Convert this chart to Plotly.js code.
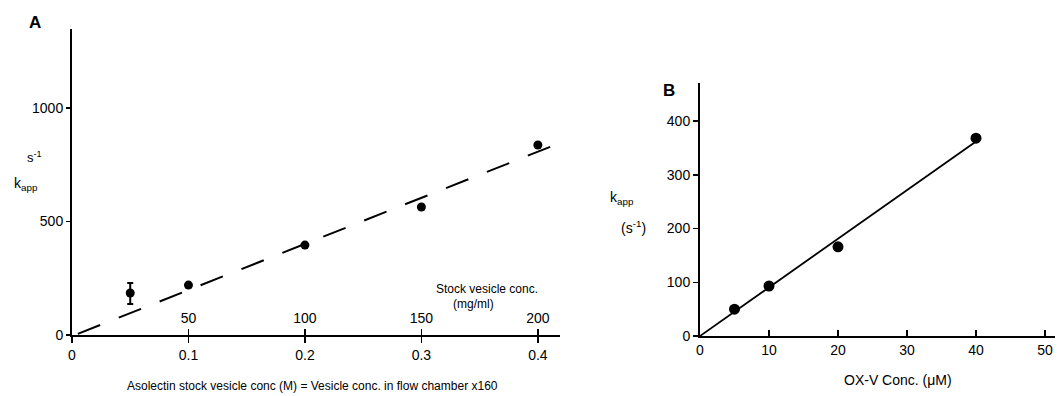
<!DOCTYPE html>
<html><head><meta charset="utf-8">
<script src="https://cdn.plot.ly/plotly-3.0.1.min.js"></script>
<style>html,body{margin:0;padding:0;background:#fff}</style>
</head><body>
<div id="chart" style="width:1059px;height:396px"></div>
<script>
// Panel A data
const aX = [0.05, 0.1, 0.2, 0.3, 0.4];
const aY = [185, 220, 396, 564, 837];
const aErrPlus = [44, 0, 0, 0, 0];
const aErrMinus = [48, 0, 0, 0, 0];
const aFitX = [0.005, 0.419];
const aFitY = [5, 846];
const aXTicks = [0, 0.1, 0.2, 0.3, 0.4];
const aXTickText = ['0', '0.1', '0.2', '0.3', '0.4'];
const aTopTicks = [50, 100, 150, 200];
const aYTicks = [0, 500, 1000];
// Panel B data
const bX = [5, 10, 20, 40];
const bY = [50, 93, 166, 368];
const bFitX = [0, 40];
const bFitY = [0, 362];
const bXTicks = [0, 10, 20, 30, 40, 50];
const bYTicks = [0, 100, 200, 300, 400];

const W = 1059, H = 396;
const px = v => v / W, py = v => 1 - v / H;
const font = {family: 'Liberation Sans, Arial, sans-serif', color: '#000', size: 14};

const traces = [
  {x: aFitX, y: aFitY, xaxis: 'x', yaxis: 'y', mode: 'lines',
   line: {color: '#000', width: 2, dash: '24px,20px'}, hoverinfo: 'skip'},
  {x: aX, y: aY, xaxis: 'x', yaxis: 'y', mode: 'markers',
   marker: {color: '#000', size: 9},
   error_y: {type: 'data', symmetric: false, array: aErrPlus, arrayminus: aErrMinus,
             color: '#000', thickness: 2, width: 3}},
  {x: [0], y: [0], xaxis: 'x2', yaxis: 'y', mode: 'markers', marker: {opacity: 0}, hoverinfo: 'skip'},
  {x: bFitX, y: bFitY, xaxis: 'x3', yaxis: 'y3', mode: 'lines',
   line: {color: '#000', width: 1.8}, hoverinfo: 'skip'},
  {x: bX, y: bY, xaxis: 'x3', yaxis: 'y3', mode: 'markers',
   marker: {color: '#000', size: 11}}
];

const axBase = {showgrid: false, zeroline: false, showline: true, linecolor: '#000',
  linewidth: 2, tickcolor: '#000', tickwidth: 1.5, tickfont: font, fixedrange: true};

const layout = {
  width: W, height: H, showlegend: false,
  margin: {l: 0, r: 0, t: 0, b: 0},
  paper_bgcolor: '#fff', plot_bgcolor: 'rgba(0,0,0,0)',
  font: font,
  xaxis: Object.assign({}, axBase, {domain: [px(72), px(560)], range: [0, 0.419],
    anchor: 'y', tickmode: 'array', tickvals: aXTicks, ticktext: aXTickText,
    ticks: 'outside', ticklen: 6}),
  xaxis2: Object.assign({}, axBase, {overlaying: 'x', side: 'top', anchor: 'free',
    position: py(335), range: [0, 0.419 * 500], showline: false,
    tickmode: 'array', tickvals: aTopTicks, ticks: 'outside', ticklen: 6}),
  yaxis: Object.assign({}, axBase, {domain: [py(335), py(29)], range: [0, 1348],
    anchor: 'x', tickmode: 'array', tickvals: aYTicks, ticks: 'outside', ticklen: 4}),
  xaxis3: Object.assign({}, axBase, {domain: [px(700), px(1055)], range: [0, 51.45],
    anchor: 'y3', tickmode: 'array', tickvals: bXTicks, ticks: 'inside', ticklen: 6}),
  yaxis3: Object.assign({}, axBase, {domain: [py(336), py(83)], range: [0, 470.7],
    anchor: 'x3', tickmode: 'array', tickvals: bYTicks, ticks: 'outside', ticklen: 5}),
  annotations: [
    {text: '<b>A</b>', x: px(35), y: py(22), font: Object.assign({}, font, {size: 17})},
    {text: '<b>B</b>', x: px(669), y: py(91), font: Object.assign({}, font, {size: 17})},
    {text: 's<sup>-1</sup>', x: px(34), y: py(157), font: Object.assign({}, font, {size: 13})},
    {text: 'k<sub>app</sub>', x: px(26), y: py(184), font: Object.assign({}, font, {size: 14})},
    {text: 'k<sub>app</sub>', x: px(622), y: py(198), font: Object.assign({}, font, {size: 14})},
    {text: '(s<sup>-1</sup>)', x: px(633), y: py(227), font: Object.assign({}, font, {size: 14})},
    {text: 'Stock vesicle conc.', x: px(487), y: py(289), font: Object.assign({}, font, {size: 12})},
    {text: '(mg/ml)', x: px(473), y: py(304), font: Object.assign({}, font, {size: 12})},
    {text: 'Asolectin stock vesicle conc (M) = Vesicle conc. in flow chamber x160',
     x: px(312), y: py(386), font: Object.assign({}, font, {size: 12})},
    {text: 'OX-V Conc. (μM)', x: px(898), y: py(380), font: Object.assign({}, font, {size: 14})}
  ].map(a => Object.assign({xref: 'paper', yref: 'paper', showarrow: false,
    xanchor: 'center', yanchor: 'middle'}, a))
};

Plotly.newPlot('chart', traces, layout, {displayModeBar: false, staticPlot: true});
</script>
</body></html>
